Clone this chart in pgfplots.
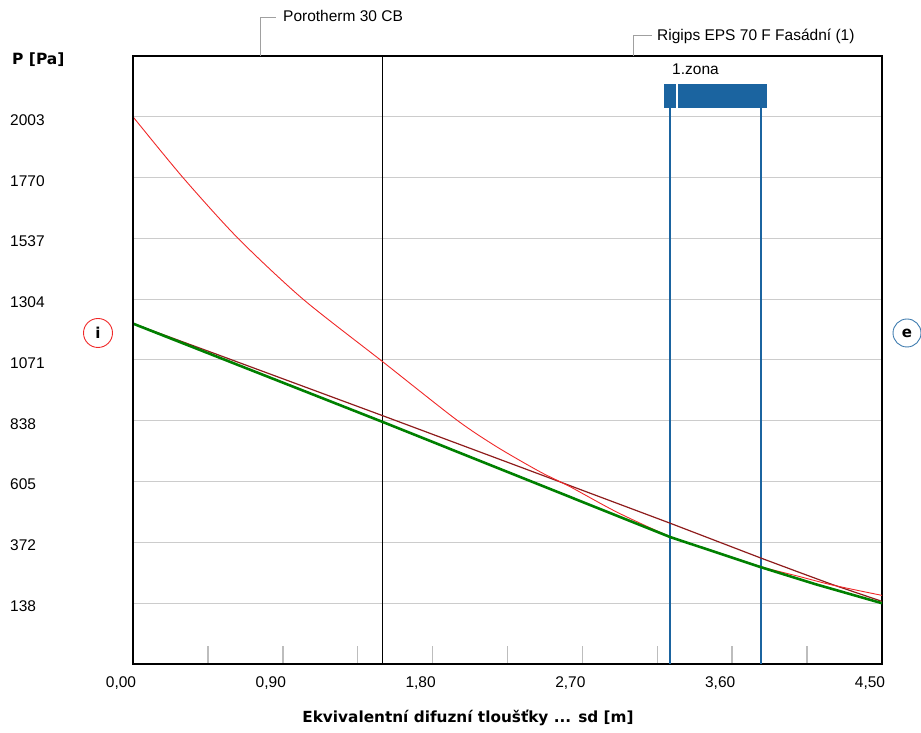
\documentclass[border=0pt]{standalone}
\usepackage{pgfplots}
\pgfplotsset{compat=1.18}
\usepackage{fontspec}
\setmainfont{Liberation Sans}
\newfontfamily\dvs{DejaVu Sans}
\definecolor{zone}{HTML}{1B64A0}
\definecolor{gridc}{HTML}{CCCCCC}
\definecolor{tickc}{HTML}{BDBDBD}
\definecolor{satred}{HTML}{F02828}
\definecolor{darkred}{HTML}{8E1C1C}
\definecolor{pgreen}{HTML}{008000}
\definecolor{leader}{HTML}{A0A0A0}
\newcommand{\fs}{\fontsize{15.5}{18}\selectfont}
\begin{document}
\begin{tikzpicture}
\path[use as bounding box] (0,0) rectangle (921pt,733pt);
\begin{axis}[
  at={(133pt,69pt)}, anchor=south west, scale only axis,
  width=749pt, height=608pt,
  xmin=0, xmax=4.5, ymin=-95, ymax=2236,
  xtick={0,0.9,1.8,2.7,3.6,4.5},
  xticklabels={{0,00},{0,90},{1,80},{2,70},{3,60},{4,50}},
  minor xtick={0.45,1.35,2.25,3.15,4.05},
  ytick={138,372,605,838,1071,1304,1537,1770,2003},
  yticklabels={138,372,605,838,1071,1304,1537,1770,2003},
  ymajorgrids, major grid style={gridc, line width=1.1pt},
  xtick pos=left, tick align=inside,
  major tick length=18pt, minor tick length=18pt,
  xtick style={tickc, line width=1.5pt},
  ytick style={draw=none},
  axis line style={black, line width=1.3pt},
  xticklabel style={font=\fs, anchor=base, yshift=-24pt, xshift=-12pt, inner sep=0pt},
  yticklabel style={font=\fs, anchor=base west, xshift=-123pt, yshift=-8.5pt, inner sep=0pt},
]
% layer boundary
\addplot[black, line width=1.2pt] coordinates {(1.5,-95)(1.5,2236)};
% condensation zone
\addplot[zone, line width=2.8pt] coordinates {(3.226,-95)(3.226,2036)};
\addplot[zone, line width=2.8pt] coordinates {(3.773,-95)(3.773,2036)};
\fill[zone] (axis cs:3.190,2036) rectangle (axis cs:3.262,2128);
\fill[zone] (axis cs:3.274,2036) rectangle (axis cs:3.810,2128);
% partial pressure (dark red)
\addplot[darkred, line width=1.2pt] coordinates {(0,1210)(0.5,1093)(1.5,857)(2.445,632)(3.226,445)(3.773,311)(4.0,257)(4.2,210)(4.5,145)};
% saturation pressure (red)
\addplot[satred, line width=0.9pt, smooth, tension=0.45] coordinates {(0,2003)(0.3,1770)(0.631,1537)(1.021,1304)(1.5,1064)(1.944,841)(2.187,737)(2.445,642)(2.625,585)(2.908,487)(3.226,394)(3.5,334)(3.773,278)(4.0,241)(4.2,208)(4.5,168)};
% actual pressure (green)
\addplot[pgreen, line width=2.6pt] coordinates {(0,1210)(1.5,833)(3.226,392)(3.773,276)(4.1,211)(4.5,138)};
\draw[black, line width=3pt] (rel axis cs:0,0) -- (rel axis cs:0,1);
\end{axis}
\draw[leader, line width=1pt] (260pt,677pt) -- (260pt,715pt) -- (276pt,715pt);
\node[anchor=base west, inner sep=0pt, font=\fs] at (283pt,711pt) {Porotherm 30 CB};
\draw[leader, line width=1pt] (633pt,677pt) -- (633pt,697pt) -- (652pt,697pt);
\node[anchor=base west, inner sep=0pt, font=\fs] at (657pt,692pt) {Rigips EPS 70 F Fasádní (1)};
\node[anchor=base west, inner sep=0pt, font=\fs] at (672pt,658pt) {1.zona};
\node[anchor=base west, inner sep=0pt, font=\dvs\bfseries\fontsize{15.5}{18}\selectfont] at (12pt,668pt) {P [Pa]};
\node[anchor=base, inner sep=0pt, font=\dvs\bfseries\fontsize{15.3}{18}\selectfont] at (468pt,10pt) {Ekvivalentní difuzní tloušťky ... sd [m]};
\node[circle, draw=satred, line width=0.9pt, minimum size=29pt, inner sep=0pt, font=\dvs\bfseries\fontsize{15}{16}\selectfont] at (98pt,400pt) {i};
\node[circle, draw=zone!85, line width=0.9pt, minimum size=28pt, inner sep=0pt, font=\dvs\bfseries\fontsize{15}{16}\selectfont] at (907pt,400pt) {e};
\end{tikzpicture}
\end{document}
